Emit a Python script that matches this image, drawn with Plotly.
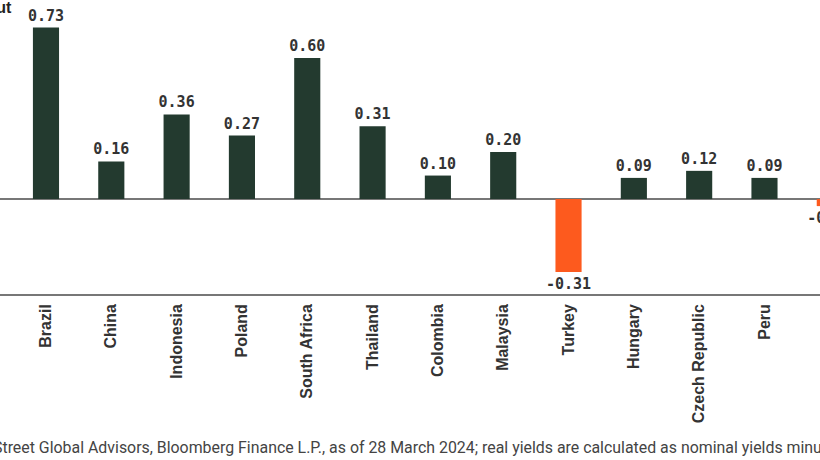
import plotly.graph_objects as go

# Real yield values per country (percent)
countries = ["Brazil", "China", "Indonesia", "Poland", "South Africa", "Thailand",
             "Colombia", "Malaysia", "Turkey", "Hungary", "Czech Republic", "Peru", "Chile"]
values = [0.73, 0.16, 0.36, 0.27, 0.60, 0.31, 0.10, 0.20, -0.31, 0.09, 0.12, 0.09, -0.03]

dark = "#233a2f"
orange = "#fd5a1e"
colors = [dark if v >= 0 else orange for v in values]

fig = go.Figure()

fig.add_trace(go.Bar(
    x=list(range(len(countries))),
    y=values,
    marker=dict(color=colors, line=dict(width=0)),
    text=[f"{v:.2f}" for v in values],
    textposition="outside",
    constraintext="none",
    textfont=dict(family="DejaVu Sans Mono", size=15, color="#333333", weight="bold"),
    cliponaxis=True,
    width=0.4,
    showlegend=False,
    hoverinfo="skip",
))

# cropped axis title at top-left
fig.add_annotation(
    text="Output", xref="paper", yref="paper", x=0, y=1,
    xanchor="right", yanchor="top", xshift=14, yshift=3,
    showarrow=False, font=dict(family="Liberation Sans", size=16, color="#222222", weight="bold"),
)

# source note (cropped at the left edge, as in the original)
fig.add_annotation(
    text="Street Global Advisors, Bloomberg Finance L.P., as of 28 March 2024; real yields are calculated as nominal yields minus inflation.",
    xref="paper", yref="paper", x=0, y=0, xanchor="left", yanchor="middle",
    xshift=-9, yshift=-153, showarrow=False,
    font=dict(family="Roboto", size=15.9, color="#444444"),
)

fig.update_layout(
    width=820, height=460,
    margin=dict(l=0, r=0, t=0, b=166),
    plot_bgcolor="white", paper_bgcolor="white",
    bargap=0.6,
    xaxis=dict(
        range=[-0.704, 11.85],
        tickmode="array",
        tickvals=list(range(len(countries))),
        ticktext=countries,
        tickangle=-90,
        tickfont=dict(family="Liberation Sans", size=16, color="#333333", weight="bold"),
        showline=True, linecolor="#777777", linewidth=1.5,
        showgrid=False, zeroline=False, ticks="",
        ticklabelstandoff=2,
    ),
    yaxis=dict(
        range=[-0.404, 0.847],
        showticklabels=False, showgrid=False,
        zeroline=True, zerolinecolor="#777777", zerolinewidth=1.5,
    ),
)

fig.write_html("out.html", config={"displayModeBar": False},
               post_script="document.body.style.margin='0';document.body.style.overflow='hidden';")
